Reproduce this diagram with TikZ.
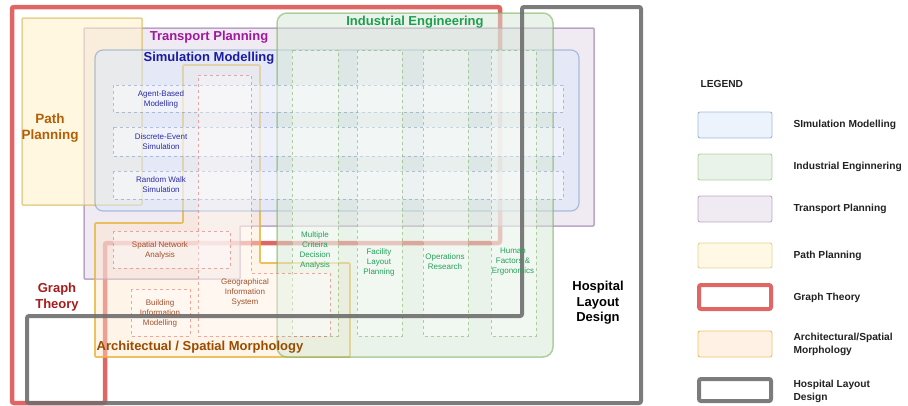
\documentclass[tikz,border=0pt]{standalone}
\usepackage{fontspec}
\setmainfont{Liberation Sans}
\definecolor{simfill}{HTML}{DAE8FC}
\definecolor{simline}{HTML}{6C8EBF}
\definecolor{iefill}{HTML}{D5E8D4}
\definecolor{ieline}{HTML}{82B366}
\definecolor{tpfill}{HTML}{E1D5E7}
\definecolor{tpline}{HTML}{9673A6}
\definecolor{ppfill}{HTML}{FFF2CC}
\definecolor{ppline}{HTML}{D6B656}
\definecolor{asfill}{HTML}{FFE6CC}
\definecolor{asline}{HTML}{E8B43A}
\definecolor{gtline}{HTML}{E06666}
\definecolor{hlline}{HTML}{6E6E6E}
\definecolor{pptext}{HTML}{B45F06}
\definecolor{tptext}{HTML}{A0189D}
\definecolor{smtext}{HTML}{1A1A9E}
\definecolor{ietext}{HTML}{1E9E50}
\definecolor{gttext}{HTML}{A61C1C}
\definecolor{astext}{HTML}{994C00}
\definecolor{smsub}{HTML}{2B2BA3}
\definecolor{iesub}{HTML}{23A35A}
\definecolor{assub}{HTML}{A0522D}
\definecolor{keytext}{HTML}{222222}
\begin{document}
\begin{tikzpicture}[x=1pt,y=-1pt,
    biglabel/.style={font=\fontsize{13}{15.5}\selectfont\bfseries, align=center},
    sublabel/.style={font=\fontsize{8}{10}\selectfont, align=center},
    keylabel/.style={font=\fontsize{10.2}{13}\selectfont\bfseries, text=keytext, anchor=west, align=left},
    keybox/.style={rounded corners=2pt, line width=0.9pt, draw opacity=0.6, fill opacity=0.5},
    rowbox/.style={draw=simline, draw opacity=0.5, fill=white, fill opacity=0.45, dashed},
    colbox/.style={draw=ieline, draw opacity=0.6, fill=white, fill opacity=0.35, dashed},
    redbox/.style={draw=gtline, draw opacity=0.55, fill=white, fill opacity=0.35, dashed}]
    \useasboundingbox (0,0) rectangle (908,405);
    % areas
    \draw[gtline, line width=4.5pt, rounded corners=2pt] (12,7) -- (500,7) -- (500,243) -- (105,243) -- (105,403) -- (12,403) -- cycle;
    \draw[tpline, draw opacity=0.6, fill=tpfill, fill opacity=0.5, line width=1.5pt, rounded corners=1pt] (84,28) -- (594,28) -- (594,226) -- (240,226) -- (240,279) -- (84,279) -- cycle;
    \draw[ppline, draw opacity=0.6, fill=ppfill, fill opacity=0.6, line width=1.5pt, rounded corners=1pt] (22,18) rectangle (142,205);
    \draw[asline, draw opacity=0.8, fill=asfill, fill opacity=0.45, line width=1.6pt, rounded corners=1pt] (95,223) -- (183,223) -- (183,65) -- (260,65) -- (260,263) -- (350,263) -- (350,357) -- (95,357) -- cycle;
    \draw[simline, draw opacity=0.5, fill=simfill, fill opacity=0.5, line width=1.2pt, rounded corners=8pt] (95,50) rectangle (579,211);
    \draw[ieline, draw opacity=0.6, fill=iefill, fill opacity=0.5, line width=1.5pt, rounded corners=10pt] (277,13) rectangle (553,357);
    % methods
    \draw[rowbox] (113,85) rectangle (563,112);
    \draw[rowbox] (113,127) rectangle (563,156);
    \draw[rowbox] (113,171) rectangle (563,199);
    \draw[colbox] (292,50) rectangle (338,336);
    \draw[colbox] (357,50) rectangle (402,336);
    \draw[colbox] (423,50) rectangle (468,336);
    \draw[colbox] (491,50) rectangle (536,336);
    \draw[redbox] (198,75) -- (251,75) -- (251,273) -- (330,273) -- (330,336) -- (198,336) -- cycle;
    \draw[redbox] (113,231) rectangle (230,268);
    \draw[redbox] (131,289) rectangle (190,336);
    \draw[hlline, draw opacity=0.9, line width=4pt, rounded corners=2pt] (522,7) -- (641,7) -- (641,403) -- (27,403) -- (27,316) -- (522,316) -- cycle;
    % area names
    \node[biglabel, text=tptext] (tp) at (209,37) {Transport Planning};
    \node[biglabel, text=smtext] (sm) at (209,58) {Simulation Modelling};
    \node[biglabel, text=ietext] (ie) at (415,22) {Industrial Engineering};
    \node[biglabel, text=pptext, font=\fontsize{13.5}{16.5}\selectfont\bfseries] (pp) at (50,128) {Path\\Planning};
    \node[biglabel, text=gttext] (gt) at (57,297) {Graph\\Theory};
    \node[biglabel, text=astext] (as) at (200,347) {Architectual / Spatial Morphology};
    \node[biglabel, text=black] (hl) at (598,303) {Hospital\\Layout\\Design};
    % method names
    \node[sublabel, text=smsub] (abm) at (161,99) {Agent-Based\\Modelling};
    \node[sublabel, text=smsub] (des) at (161,142) {Discrete-Event\\Simulation};
    \node[sublabel, text=smsub] (rws) at (161,185) {Random Walk\\Simulation};
    \node[sublabel, text=iesub] (mcda) at (315,250) {Multiple\\Criteira\\Decision\\Analysis};
    \node[sublabel, text=iesub] (flp) at (379,262) {Facility\\Layout\\Planning};
    \node[sublabel, text=iesub] (ops) at (445,262) {Operations\\Research};
    \node[sublabel, text=iesub] (hfe) at (513,262) {Human\\Factors \&\\Ergonomics};
    \node[sublabel, text=assub] (sna) at (160,250) {Spatial Network\\Analysis};
    \node[sublabel, text=assub] (gis) at (245,292) {Geographical\\Information\\System};
    \node[sublabel, text=assub] (bim) at (160,313) {Building\\Information\\Modelling};
    % legend
    \node[keylabel] (legend) at (697,84) {LEGEND};
    \draw[keybox, draw=simline, fill=simfill] (698,112) rectangle (772,138);
    \draw[keybox, draw=ieline, fill=iefill] (698,154) rectangle (772,180);
    \draw[keybox, draw=tpline, fill=tpfill] (698,196) rectangle (772,222);
    \draw[keybox, draw=ppline, fill=ppfill] (698,243) rectangle (772,268);
    \draw[gtline, line width=4pt, rounded corners=2pt] (699,285) rectangle (771,309);
    \draw[keybox, draw=asline, draw opacity=0.8, fill=asfill] (698,331) rectangle (772,357);
    \draw[hlline, draw opacity=0.9, line width=4pt, rounded corners=2pt] (699,379) rectangle (771,401);
    \node[keylabel] (k-sm) at (790,125) {SImulation Modelling};
    \node[keylabel] (k-ie) at (790,167) {Industrial Enginnering};
    \node[keylabel] (k-tp) at (790,209) {Transport Planning};
    \node[keylabel] (k-pp) at (790,256) {Path Planning};
    \node[keylabel] (k-gt) at (790,298) {Graph Theory};
    \node[keylabel] (k-as) at (790,344) {Architectural/Spatial\\Morphology};
    \node[keylabel] (k-hl) at (790,391) {Hospital Layout\\Design};
\end{tikzpicture}
\end{document}
